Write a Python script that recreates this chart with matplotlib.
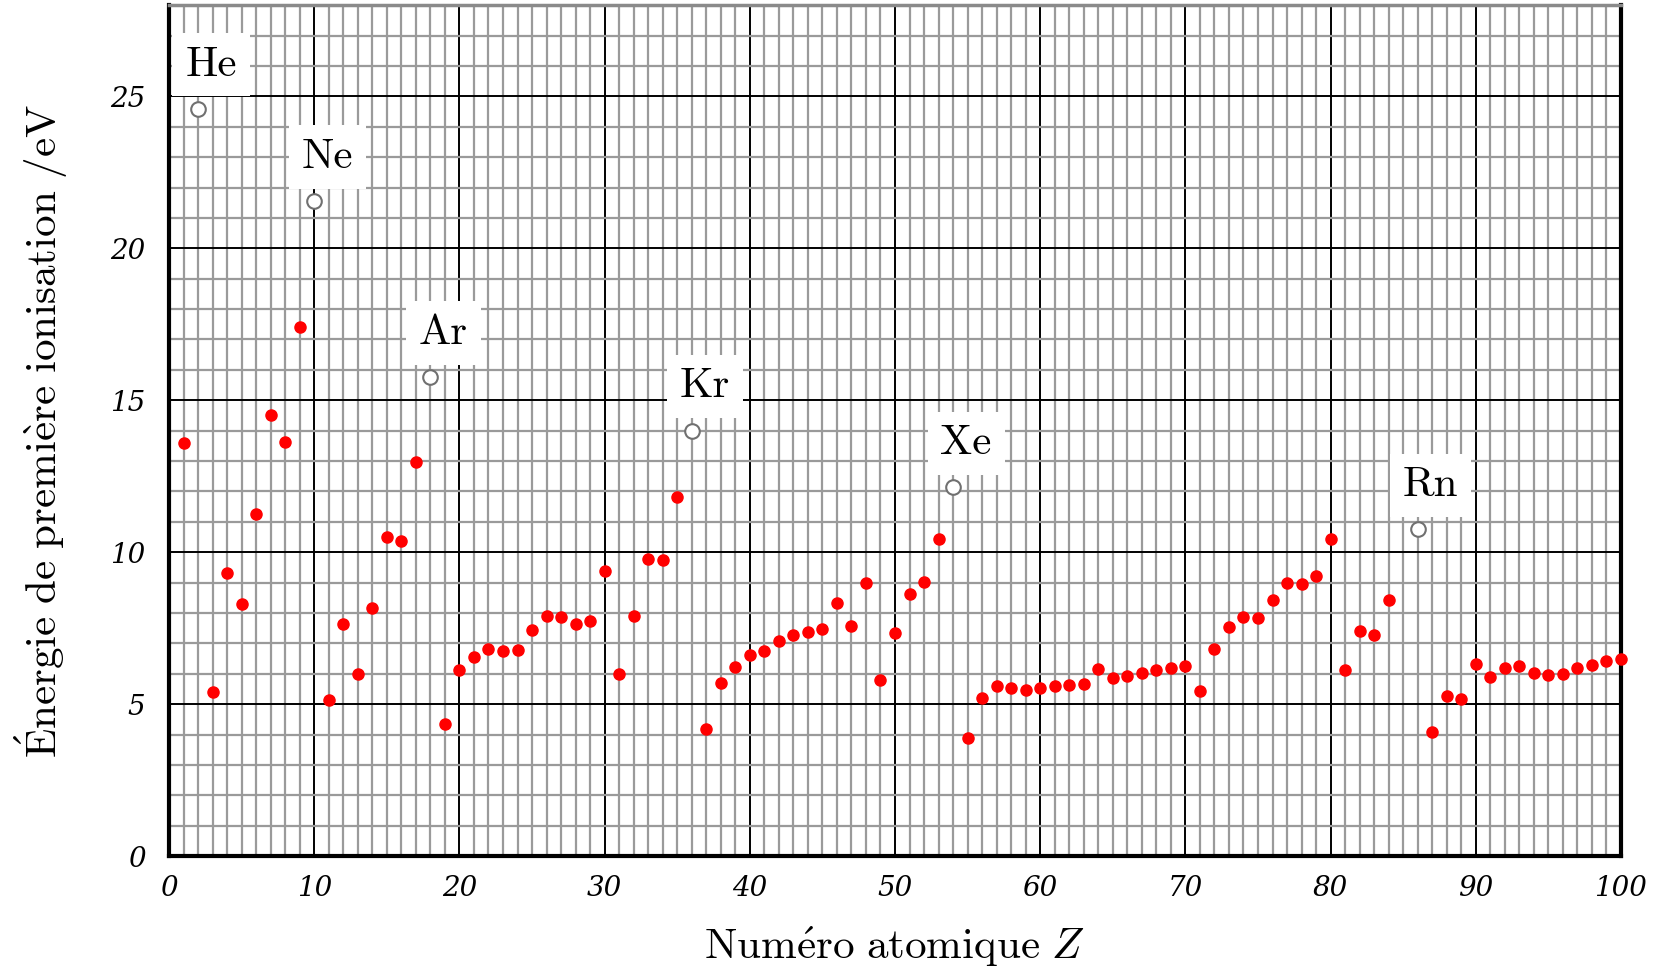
"""Énergie de première ionisation en fonction du numéro atomique"""
import matplotlib.pyplot as plt
import numpy as np

plt.rcParams['mathtext.fontset'] = 'cm'
plt.rcParams['font.family'] = ['cmr10', 'DejaVu Serif']

# first ionisation energies (eV), Z = 1..100 (At, Z=85, absent on the chart)
Z = [z for z in range(1, 101) if z != 85]
E = [13.60, 24.59, 5.39, 9.32, 8.30, 11.26, 14.53, 13.62, 17.42, 21.56,
     5.14, 7.65, 5.99, 8.15, 10.49, 10.36, 12.97, 15.76, 4.34, 6.11,
     6.56, 6.83, 6.75, 6.77, 7.43, 7.90, 7.88, 7.64, 7.73, 9.39,
     6.00, 7.90, 9.79, 9.75, 11.81, 14.00, 4.18, 5.69, 6.22, 6.63,
     6.76, 7.09, 7.28, 7.36, 7.46, 8.34, 7.58, 8.99, 5.79, 7.34,
     8.61, 9.01, 10.45, 12.13, 3.89, 5.21, 5.58, 5.54, 5.47, 5.53,
     5.58, 5.64, 5.67, 6.15, 5.86, 5.94, 6.02, 6.11, 6.18, 6.25,
     5.43, 6.83, 7.55, 7.86, 7.83, 8.44, 8.97, 8.96, 9.23, 10.44,
     6.11, 7.42, 7.29, 8.42, 10.75, 4.07, 5.28, 5.17, 6.31,
     5.89, 6.19, 6.27, 6.03, 5.97, 5.99, 6.20, 6.28, 6.42, 6.50]

noble_names = ["He", "Ne", "Ar", "Kr", "Xe", "Rn"]
noble_Z = [2, 10, 18, 36, 54, 86]

x_ticks = list(range(0, 101, 10))
y_ticks = list(range(0, 26, 5))

fig = plt.figure(figsize=(16.67, 9.74), dpi=100)
ax = fig.add_axes([0.1014, 0.1211, 0.8710, 0.8735])

ax.set_xlim(0, 100)
ax.set_ylim(0, 28)
ax.set_xticks(x_ticks)
ax.set_yticks(y_ticks)
ax.set_xticks(np.arange(0, 101, 1), minor=True)
ax.set_yticks(np.arange(0, 29, 1), minor=True)
ax.grid(which='minor', color='#9a9a9a', lw=1.6, zorder=0)
ax.grid(which='major', color='black', lw=1.4, zorder=0.5)
ax.set_axisbelow(True)
ax.tick_params(axis='y', which='both', length=0, pad=17)
ax.tick_params(axis='x', which='both', length=0, pad=14)

tick_font = dict(family='DejaVu Serif', style='italic', size=20)
ax.set_xticklabels([str(t) for t in x_ticks], **tick_font)
ax.set_yticklabels([str(t) for t in y_ticks], **tick_font)

for side in ['left', 'bottom', 'right']:
    ax.spines[side].set_linewidth(3)
    ax.spines[side].set_color('black')
ax.spines['top'].set_linewidth(2.5)
ax.spines['top'].set_color('#8a8a8a')

# elements other than noble gases
mask = [z not in noble_Z for z in Z]
zr = [z for z, m in zip(Z, mask) if m]
er = [e for e, m in zip(E, mask) if m]
ax.plot(zr, er, 'o', color='red', ms=8, mec='red', zorder=3, clip_on=False)

# noble gases, open circles and labels
en = [E[Z.index(z)] for z in noble_Z]
ax.plot(noble_Z, en, 'o', mfc='white', mec='#707070', mew=1.5, ms=10.5, zorder=3)
for name, z, e in zip(noble_names, noble_Z, en):
    ax.text(z + 0.9, e + 1.45, name, fontsize=31, ha='center', va='center', zorder=4,
            bbox=dict(boxstyle='square,pad=0.3', fc='white', ec='none'))

ax.set_xlabel(r"$\mathrm{Num\acute{e}ro\ atomique}\ Z$", fontsize=31, labelpad=16)
ax.set_ylabel(r"$\mathrm{\acute{E}nergie\ de\ premi\grave{e}re\ ionisation\ /eV}$",
              fontsize=31, labelpad=29)

fig.savefig("out.png", dpi=100)
